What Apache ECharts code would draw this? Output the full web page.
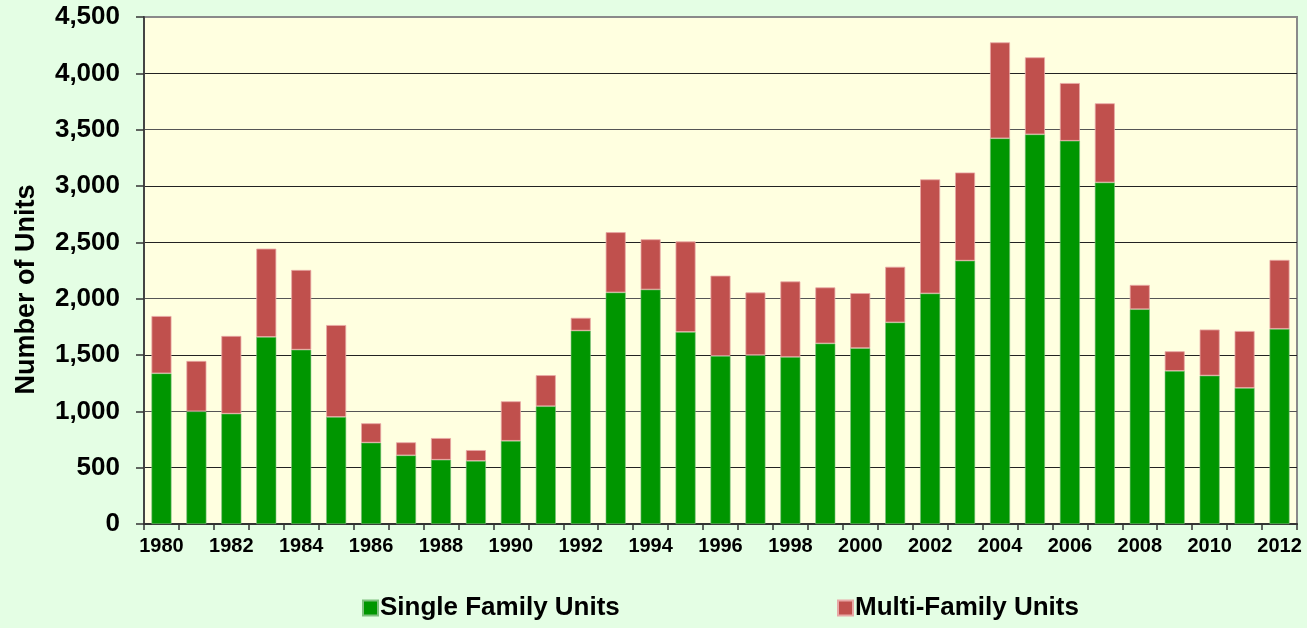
<!DOCTYPE html>
<html>
<head>
<meta charset="utf-8">
<script src="https://cdn.jsdelivr.net/npm/echarts@6/dist/echarts.min.js"></script>
<style>
html,body{margin:0;padding:0;background:#E4FEE4;}
#chart{width:1307px;height:628px;}
</style>
</head>
<body>
<div id="chart"></div>
<script>
const years = ['1980','1981','1982','1983','1984','1985','1986','1987','1988','1989','1990','1991','1992','1993','1994','1995','1996','1997','1998','1999','2000','2001','2002','2003','2004','2005','2006','2007','2008','2009','2010','2011','2012'];
const singleFamily = [1337,1000,979,1660,1547,950,722,609,570,560,738,1045,1716,2055,2081,1704,1492,1498,1482,1602,1561,1789,2046,2337,3423,3458,3401,3031,1906,1359,1317,1207,1732];
const multiFamily = [509,447,690,784,708,816,172,116,193,96,351,276,114,535,446,804,712,557,671,498,488,494,1013,783,852,684,513,703,216,174,409,506,612];
const yTicks = [0,500,1000,1500,2000,2500,3000,3500,4000,4500];

const font = 'Liberation Sans, Arial, sans-serif';
const chart = echarts.init(document.getElementById('chart'));
chart.setOption({
  backgroundColor: '#E4FEE4',
  animation: false,
  grid: {left: 144, right: 10, top: 17, bottom: 104, show: true, backgroundColor: '#FFFFE0', borderColor: '#8a8a8a', borderWidth: 2},
  legend: [
    {data: ['Single Family Units'], left: 357, top: 590, itemWidth: 15, itemHeight: 15, itemGap: 4, icon: 'rect',
     textStyle: {fontFamily: font, fontWeight: 'bold', fontSize: 26, color: '#000', padding: [0,0,0,-3]}},
    {data: ['Multi-Family Units'], left: 832, top: 590, itemWidth: 15, itemHeight: 15, itemGap: 4, icon: 'rect',
     textStyle: {fontFamily: font, fontWeight: 'bold', fontSize: 26, color: '#000', padding: [0,0,0,-3]}}
  ],
  xAxis: {
    type: 'category', data: years,
    axisLine: {lineStyle: {color: '#333', width: 2}},
    axisTick: {show: true, interval: 0, length: 6, lineStyle: {color: '#333', width: 1.5}},
    axisLabel: {interval: 1, fontFamily: font, fontWeight: 'bold', fontSize: 20, color: '#000', margin: 12}
  },
  yAxis: {
    type: 'value', min: 0, max: 4500, interval: 500,
    name: 'Number of Units', nameLocation: 'middle', nameGap: 104, nameRotate: 90,
    nameTextStyle: {fontFamily: font, fontWeight: 'bold', fontSize: 27, color: '#000', padding: [0,38,0,0]},
    axisLine: {show: true, lineStyle: {color: '#444', width: 2}},
    axisTick: {show: true, inside: false, length: 8, lineStyle: {color: '#333', width: 1.5}},
    axisLabel: {fontFamily: font, fontWeight: 'bold', fontSize: 26, color: '#000', margin: 24,
      formatter: v => v.toLocaleString('en-US')},
    splitLine: {lineStyle: {color: ['#222','#222','#555','#222','#555','#222','#222','#555','#222','#8a8a8a'], width: 1.2}}
  },
  series: [
    {name: 'Single Family Units', type: 'bar', stack: 'u', data: singleFamily, barWidth: 20,
     itemStyle: {color: '#009600', borderColor: '#7fc07f', borderWidth: 0.6}},
    {name: 'Multi-Family Units', type: 'bar', stack: 'u', data: multiFamily, barWidth: 20,
     itemStyle: {color: '#C0504D', borderColor: '#e8a8a6', borderWidth: 0.8}}
  ]
});
</script>
</body>
</html>
